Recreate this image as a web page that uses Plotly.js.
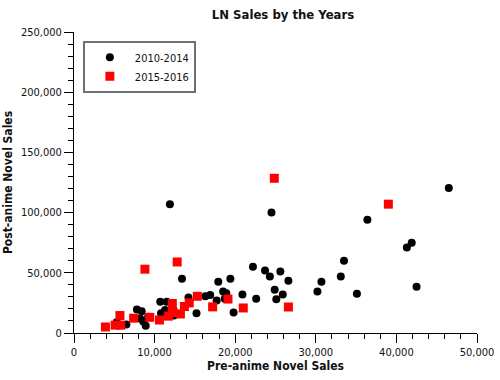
<!DOCTYPE html>
<html>
<head>
<meta charset="utf-8">
<script src="https://cdn.plot.ly/plotly-3.0.1.min.js"></script>
<style>html,body{margin:0;padding:0;background:#fff;}#chart{width:500px;height:380px;}</style>
</head>
<body>
<div id="chart"></div>
<script>
const seriesNames = ["2010-2014", "2015-2016"];

const preA = [5300, 6500, 7800, 8400, 8200, 8600, 8900, 9200, 10700, 11500, 10800, 11300, 12400, 11900, 13400, 14200, 15200, 16300, 16900, 17700, 17900, 18500, 18900, 18700, 19400, 19800, 20900, 22200, 22600, 23700, 24300, 24500, 24900, 25100, 25600, 25900, 26600, 30200, 30700, 33100, 33500, 35100, 36400, 41300, 41900, 42500, 46500];
const postA = [9000, 7000, 19500, 18000, 12000, 9500, 6000, 13500, 26000, 26000, 16500, 19000, 14500, 107000, 45000, 29500, 16500, 30500, 31500, 27000, 42500, 34500, 33000, 28500, 45000, 17000, 32000, 55000, 28500, 52000, 47000, 100000, 36000, 28000, 51000, 32000, 43500, 34500, 42500, 47000, 60000, 32500, 94000, 71000, 75000, 38500, 120500];

const preB = [3900, 5100, 5800, 5700, 7400, 8800, 9400, 10600, 11700, 12200, 12200, 12300, 12800, 13200, 13700, 14300, 15300, 17200, 19100, 21000, 24850, 26600, 39000];
const postB = [5000, 6500, 6500, 14500, 12300, 53000, 13000, 10800, 14000, 24500, 18000, 17000, 59000, 15800, 22000, 25000, 30500, 21700, 28200, 20800, 128500, 21600, 107000];

const FONT = "DejaVu Sans Condensed, DejaVu Sans, sans-serif";

const traces = [
  {x: preA, y: postA, name: seriesNames[0], type: "scatter", mode: "markers",
   marker: {color: "#000000", size: 8, symbol: "circle"}},
  {x: preB, y: postB, name: seriesNames[1], type: "scatter", mode: "markers",
   marker: {color: "#ff0000", size: 9, symbol: "square"}}
];

const axisCommon = {
  showgrid: false, zeroline: false, showline: true, linecolor: "#000", linewidth: 1,
  ticks: "outside", ticklen: 9, tickwidth: 1, tickcolor: "#000",
  tickformat: ",d", tickfont: {family: FONT, size: 11, color: "#111"}
};

const layout = {
  width: 500, height: 380,
  margin: {l: 74, r: 23, t: 32, b: 47},
  paper_bgcolor: "#fff", plot_bgcolor: "#fff",
  font: {family: FONT, size: 11, color: "#111"},
  title: {text: "<b>LN Sales by the Years</b>", x: 283/500, xref: "container", xanchor: "center",
          y: 1 - 14/380, yref: "container", yanchor: "middle",
          font: {family: FONT, size: 13, color: "#111"}},
  xaxis: Object.assign({}, axisCommon, {
    range: [0, 50000], dtick: 10000, tick0: 0,
    minor: {dtick: 2000, ticks: "outside", ticklen: 5, tickcolor: "#000", showgrid: false},
    title: {text: "<b>Pre-anime Novel Sales</b>", standoff: 3, font: {family: FONT, size: 12, color: "#111"}}
  }),
  yaxis: Object.assign({}, axisCommon, {
    range: [0, 250000], dtick: 50000, tick0: 0,
    minor: {dtick: 10000, ticks: "outside", ticklen: 5, tickcolor: "#000", showgrid: false},
    title: {text: "<b>Post-anime Novel Sales</b>", standoff: 5, font: {family: FONT, size: 12, color: "#111"}}
  }),
  showlegend: true,
  legend: {x: 0.022, y: 0.971, xanchor: "left", yanchor: "top",
           bordercolor: "#707070", borderwidth: 2, bgcolor: "#fff",
           font: {family: FONT, size: 11, color: "#111"},
           tracegroupgap: 0, itemsizing: "trace", itemwidth: 40,
           entrywidth: 70, entrywidthmode: "pixels"}
};

Plotly.newPlot("chart", traces, layout, {displayModeBar: false, staticPlot: true});
</script>
</body>
</html>
